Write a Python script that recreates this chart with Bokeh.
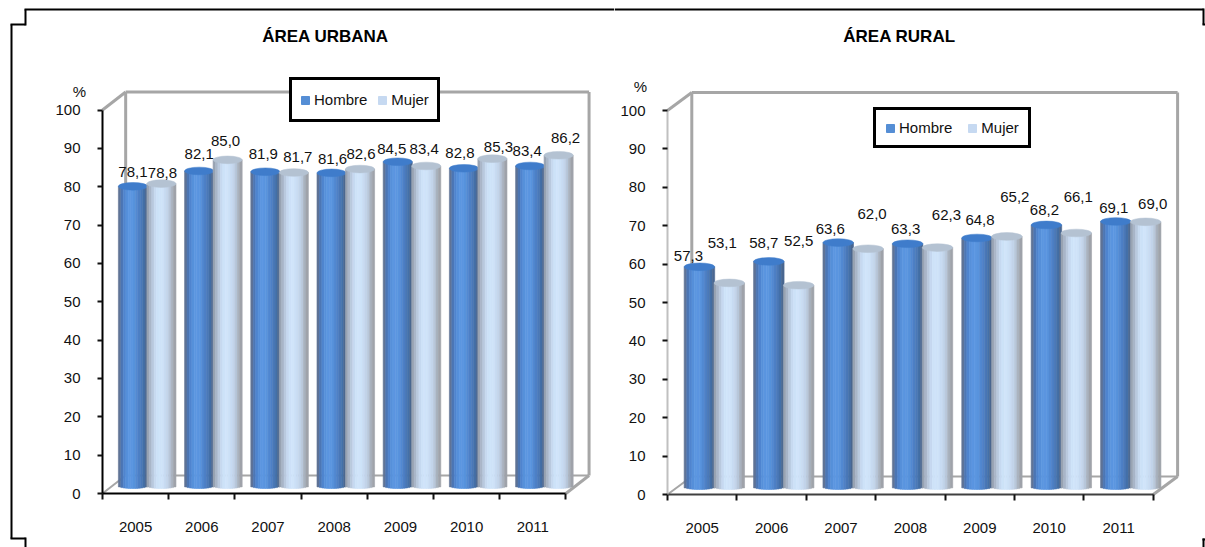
import math
from bokeh.plotting import figure
from bokeh.layouts import row
from bokeh.models import (ColumnDataSource, Label, Legend, LegendItem, BoxAnnotation,
                          FixedTicker, LinearAxis, Range1d)
from bokeh.core.properties import value
from bokeh.embed import file_html
from bokeh.resources import INLINE

years = ["2005", "2006", "2007", "2008", "2009", "2010", "2011"]
urb_h = [78.1, 82.1, 81.9, 81.6, 84.5, 82.8, 83.4]
urb_m = [78.8, 85.0, 81.7, 82.6, 83.4, 85.3, 86.2]
rur_h = [57.3, 58.7, 63.6, 63.3, 64.8, 68.2, 69.1]
rur_m = [53.1, 52.5, 62.0, 62.3, 65.2, 66.1, 69.0]
y_ticks = list(range(0, 101, 10))

# label nudges (pixels, relative to each bar's top centre)
urb_h_dx = [0, 0, -2, 1, -6, -4, -3]
urb_h_dy = [-14, -17, -18, -14, -13, -15, -15]
urb_m_dx = [1, -2, 4, 1, -2, 6, 7]
urb_m_dy = [-11, -19, -16, -15, -17, -12, -17]
rur_h_dx = [-11, -5, -8, -2, 3, -2, -2]
rur_h_dy = [-11, -18, -14, -15, -18, -15, -13]
rur_m_dx = [-7, 0, 4, 9, 8, 2, 7]
rur_m_dy = [-40, -44, -35, -33, -39, -36, -18]

H_SHADE = ["#5f7396", "#4c76b4", "#4f84cf", "#5690da", "#5b96e0", "#5b96e0", "#5893dd", "#5289d2",
           "#4e80c6", "#4a78b8", "#4470a8", "#4a6790"]
M_SHADE = ["#98a3b2", "#a9b6c8", "#b9c9de", "#c6d9f0", "#cde2f8", "#d0e4fa", "#cee2f8", "#c8dbf2",
           "#c2d4ea", "#b8c7da", "#a9b2be", "#9fa3aa"]
TOP_H = "#3f7ccb"
TOP_M = "#b4c2d2"
LEG_H = "#558ed5"
LEG_M = "#c6d9f1"
GREY = "#a6a6a6"
FONT = "Liberation Sans"
TXT = "#111111"

BAR_W = 0.44
BASE = 2.0
ELL_H = 2.0
FOOT_H = 1.4
DEPTH_X, DEPTH_Y = 0.35, 4.7
H_POS, M_POS = 0.46, 0.89
HEIGHT = 547


def strips(vals, pos, shades):
    d = dict(left=[], right=[], top=[], bottom=[], color=[])
    n = len(shades)
    for i, v in enumerate(vals):
        c = i + pos
        for k, col in enumerate(shades):
            l = -1 + 2 * k / n
            r = -1 + 2 * (k + 1) / n
            t = (l + r) / 2
            d["left"].append(c + l * BAR_W / 2)
            d["right"].append(c + r * BAR_W / 2)
            d["top"].append(v + BASE)
            d["bottom"].append(BASE - FOOT_H / 2 * math.sqrt(max(0, 1 - t * t)))
            d["color"].append(col)
    return d


def panel(vals_h, vals_m, lab_h, lab_m, title, title_x, pct_x, pct_y, width, origin_x, axis_x, axis_y, x_scale, y_scale,
          yaxis_color, xaxis_color, legend_xy, legend_spacing, legend_pad, legend_h):
    left = axis_x - origin_x
    p = figure(width=width, height=HEIGHT, output_backend="svg", toolbar_location=None,
               x_range=Range1d(-left / x_scale, (width - left) / x_scale),
               y_range=Range1d(-(HEIGHT - axis_y) / y_scale, axis_y / y_scale),
               min_border_left=0, min_border_right=0, min_border_top=0, min_border_bottom=0,
               x_axis_type=None, y_axis_type=None)
    p.outline_line_color = None
    p.grid.visible = False

    # walls
    n = len(years)
    p.line([DEPTH_X, DEPTH_X], [DEPTH_Y, 100 + DEPTH_Y], line_color=GREY, line_width=3)
    p.line([DEPTH_X, n + DEPTH_X], [100 + DEPTH_Y, 100 + DEPTH_Y], line_color=GREY, line_width=3)
    p.line([n + DEPTH_X, n + DEPTH_X], [DEPTH_Y, 100 + DEPTH_Y], line_color=GREY, line_width=3)
    p.line([DEPTH_X, n + DEPTH_X], [DEPTH_Y, DEPTH_Y], line_color=GREY, line_width=2)
    p.line([0, DEPTH_X], [100, 100 + DEPTH_Y], line_color=GREY, line_width=3)
    p.line([0, DEPTH_X], [0, DEPTH_Y], line_color=GREY, line_width=2)
    p.line([n, n + DEPTH_X], [0, DEPTH_Y], line_color=GREY, line_width=3)

    # bars
    for vals, pos, shades, top in ((vals_h, H_POS, H_SHADE, TOP_H), (vals_m, M_POS, M_SHADE, TOP_M)):
        p.quad(left="left", right="right", top="top", bottom="bottom", source=ColumnDataSource(strips(vals, pos, shades)),
               fill_color="color", line_color="color", line_width=0.6)
        p.ellipse(x=[i + pos for i in range(n)], y=[v + BASE for v in vals], width=BAR_W, height=ELL_H,
                  fill_color=top, line_color=top, line_width=0.5)

    # value labels
    for vals, pos, (dx, dy) in ((vals_h, H_POS, lab_h), (vals_m, M_POS, lab_m)):
        src = ColumnDataSource(dict(x=[i + pos for i in range(n)], y=[v + BASE for v in vals],
                                    t=[f"{v:.1f}".replace(".", ",") for v in vals], dx=dx, dy=dy))
        p.text(x="x", y="y", text="t", x_offset="dx", y_offset="dy", source=src, text_font=value(FONT),
               text_font_size="15px", text_color=TXT, text_align="center", text_baseline="middle")

    # axes
    yax = LinearAxis(ticker=FixedTicker(ticks=y_ticks), bounds=(0, 100), fixed_location=0)
    yax.axis_line_color = yaxis_color
    yax.axis_line_width = 2
    yax.major_tick_line_color = "#111111"
    yax.major_tick_line_width = 2
    yax.major_tick_out = 5
    yax.major_tick_in = 0
    yax.minor_tick_out = 0
    yax.minor_tick_in = 0
    yax.major_label_standoff = 17
    yax.major_label_text_font = FONT
    yax.major_label_text_font_size = "15px"
    yax.major_label_text_color = TXT
    p.add_layout(yax, "left")

    centers = [i + 0.5 for i in range(n)]
    xax = LinearAxis(ticker=FixedTicker(ticks=centers, minor_ticks=list(range(n + 1))), bounds=(0, n), fixed_location=0)
    xax.major_label_overrides = {c: y for c, y in zip(centers, years)}
    xax.axis_line_color = xaxis_color
    xax.axis_line_width = 2
    xax.major_tick_out = 0
    xax.major_tick_in = 0
    xax.minor_tick_out = 6
    xax.minor_tick_in = 0
    xax.minor_tick_line_color = "#111111"
    xax.minor_tick_line_width = 2
    xax.major_label_standoff = 22
    xax.major_label_text_font = FONT
    xax.major_label_text_font_size = "15px"
    xax.major_label_text_color = TXT
    p.add_layout(xax, "below")

    # legend
    nan = float("nan")
    rh = p.quad(left=[nan], right=[nan], top=[nan], bottom=[nan], fill_color=LEG_H, line_color=LEG_H)
    rm = p.quad(left=[nan], right=[nan], top=[nan], bottom=[nan], fill_color=LEG_M, line_color=LEG_M)
    leg = Legend(items=[LegendItem(label="Hombre", renderers=[rh]), LegendItem(label="Mujer", renderers=[rm])],
                 orientation="horizontal", location=legend_xy, border_line_color="#000000", border_line_alpha=1,
                 border_line_width=3, background_fill_color="#ffffff", background_fill_alpha=1,
                 glyph_width=10, glyph_height=10, label_standoff=4, spacing=legend_spacing, padding=legend_pad,
                 label_height=legend_h, margin=0,
                 label_text_font=FONT, label_text_font_size="15px", label_text_color=TXT)
    p.add_layout(leg, "center")

    # title and unit
    p.add_layout(Label(x=title_x - origin_x, y=36, x_units="canvas", y_units="canvas", text=title,
                       text_font=FONT, text_font_style="bold", text_font_size="17px",
                       text_color="#000000", text_align="center", text_baseline="middle"))
    p.add_layout(Label(x=pct_x - origin_x, y=pct_y, x_units="canvas", y_units="canvas", text="%",
                       text_font=FONT, text_font_size="15px", text_color=TXT,
                       text_align="center", text_baseline="middle"))
    return p


def frame_seg(p, origin_x, x0, y0, x1, y1):
    p.add_layout(BoxAnnotation(left=x0 - origin_x, right=x1 - origin_x, top=y0, bottom=y1,
                               left_units="canvas", right_units="canvas", top_units="canvas", bottom_units="canvas",
                               fill_color="#000000", fill_alpha=1, line_color=None))


W1 = 614
W2 = 591
p1 = panel(urb_h, urb_m, (urb_h_dx, urb_h_dy), (urb_m_dx, urb_m_dy), "ÁREA URBANA", 325, 79, 91, W1, 0, 102, 493, 66.2,
           3.835, "#000000", "#000000", (289, 425), 10, 8, 23)
p2 = panel(rur_h, rur_m, (rur_h_dx, rur_h_dy), (rur_m_dx, rur_m_dy), "ÁREA RURAL", 899, 640, 86, W2, W1, 667, 494, 69.4,
           3.84, "#c0c0c0", "#404040", (873 - W1, 399), 15, 9, 17)

for seg in [(10, 24, 12, 538), (10, 23, 25, 25), (24, 9, 26, 25), (24, 8, W1, 10), (10, 537, 25, 539), (24, 537, 26, 547)]:
    frame_seg(p1, 0, *seg)
for seg in [(W1, 8, 1203, 10), (1202, 8, 1204, 24), (1202, 23, 1205, 25), (1202, 538, 1205, 540), (1202, 538, 1204, 547)]:
    frame_seg(p2, W1, *seg)

layout = row(p1, p2, spacing=0)
open("out.html", "w").write(file_html(layout, INLINE))
